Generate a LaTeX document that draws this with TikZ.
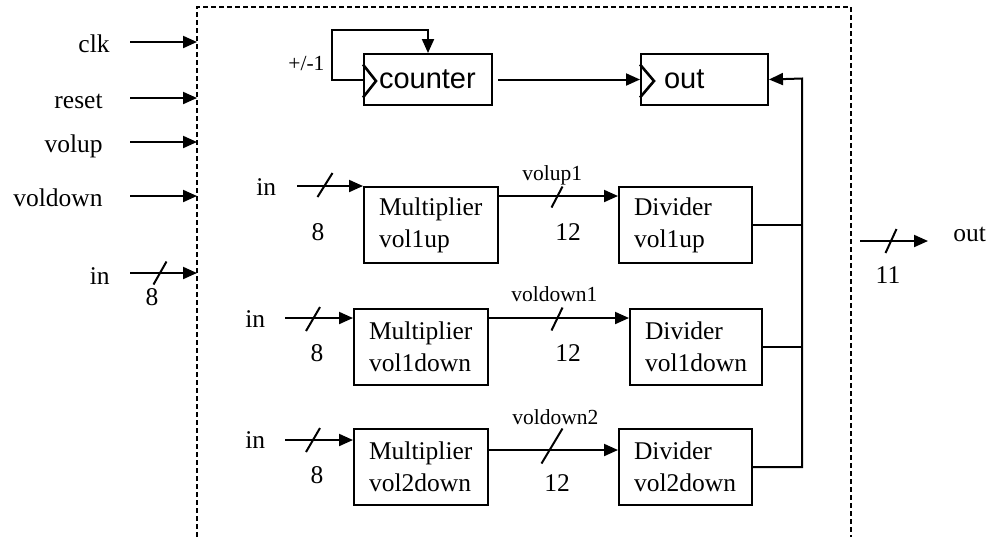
\documentclass[tikz,border=0pt]{standalone}
\usepackage{fontspec}
\setmainfont{Liberation Serif}
\newfontfamily\sansf{Liberation Sans}
\usetikzlibrary{arrows.meta,calc}
\tikzset{
 wire/.style={line width=1pt},
 arr/.style={wire,-{Triangle[length=7pt,width=6pt]}},
 blk/.style={draw,line width=1pt,anchor=north west,minimum height=38pt,inner xsep=7.5pt,inner ysep=0pt,align=left,font=\fontsize{12.75}{16}\selectfont},
 reg/.style={draw,line width=1pt,anchor=north west,minimum height=25.5pt,inner ysep=0pt,align=left,font=\sansf\fontsize{14.5}{16}\selectfont},
 lbl/.style={inner sep=0pt,font=\fontsize{12.75}{15}\selectfont},
 sml/.style={inner sep=0pt,font=\fontsize{10.75}{13}\selectfont},
 frame/.style={line width=0.8pt,dash pattern=on 2.5pt off 1.5pt},
}
\begin{document}
\begin{tikzpicture}[x=0.5pt,y=-0.5pt]
\useasboundingbox (0,0) rectangle (988,537);
% dashed frame
\coordinate (fbl) at (197,537);
\coordinate (ftl) at (197,7);
\coordinate (ftr) at (851,7);
\coordinate (fbr) at (851,537);
\draw[frame] (fbl) -- (ftl) -- (ftr) -- (fbr);

% registers
\node[reg,text width=49pt,inner xsep=7.5pt] (counter) at (363,53) {counter};
\node[reg,text width=40.5pt,inner xsep=11.5pt] (outreg) at (640,53) {out};
\draw[line width=1.3pt] ($(counter.west)+(0,-15)$) -- ($(counter.west)+(13,1.5)$) -- ($(counter.west)+(0,18)$);
\draw[line width=1.3pt] ($(outreg.west)+(0,-15)$) -- ($(outreg.west)+(14,1.5)$) -- ($(outreg.west)+(0,18)$);

% blocks
\node[blk,text width=52pt] (mult1) at (363,186) {Multiplier\\vol1up};
\node[blk,text width=52pt] (mult2) at (353,308) {Multiplier\\vol1down};
\node[blk,text width=52pt] (mult3) at (353,428) {Multiplier\\vol2down};
\node[blk,text width=51.5pt] (div1) at (618,186) {Divider\\vol1up};
\node[blk,text width=51pt] (div2) at (629,308) {Divider\\vol1down};
\node[blk,text width=51.5pt] (div3) at (618,428) {Divider\\vol2down};

% left inputs
\node[lbl,anchor=base east] (lclk) at (110,52) {clk};
\node[lbl,anchor=base east] (lrst) at (103,108) {reset};
\node[lbl,anchor=base east] (lvu) at (103,152) {volup};
\node[lbl,anchor=base east] (lvd) at (103,206) {voldown};
\node[lbl,anchor=base east] (lin) at (110,284) {in};
\coordinate (sclk) at (130,42);  \coordinate (eclk) at (197,42);
\coordinate (srst) at (130,98);  \coordinate (erst) at (197,98);
\coordinate (svu) at (130,142);  \coordinate (evu) at (197,142);
\coordinate (svd) at (130,196);  \coordinate (evd) at (197,196);
\coordinate (sin) at (130,273);  \coordinate (ein) at (197,273);
\draw[arr] (sclk) -- (eclk);
\draw[arr] (srst) -- (erst);
\draw[arr] (svu) -- (evu);
\draw[arr] (svd) -- (evd);
\draw[arr] (sin) -- (ein);
\draw[wire] (160,273) ++(-6.5,11.5) -- ++(13,-23);
\node[lbl] (n8l) at (152,297) {8};

% counter loop
\node[sml,anchor=base west] (pm) at (288,70) {+/-1};
\coordinate (fbk) at (428,30);
\draw[arr] (counter.west) -- ++(-31,0) |- (fbk) -- (fbk |- counter.north);
\draw[arr,shorten <=2.5pt] (counter.east) -- (outreg.west);

% row inputs
\node[lbl,anchor=base west] (in1) at (256,195) {in};
\node[lbl,anchor=base west] (in2) at (245,327) {in};
\node[lbl,anchor=base west] (in3) at (245,448) {in};
\coordinate (s1) at (297,186);
\coordinate (s2) at (285,318);
\coordinate (s3) at (285,440);
\draw[arr] (s1) -- (mult1.north west);
\draw[arr] (s2) -- (s2 -| mult2.west);
\draw[arr] (s3) -- (s3 -| mult3.west);
\draw[wire] (325,185) ++(-7.5,12) -- ++(15,-24);
\draw[wire] (313,319) ++(-7,12) -- ++(14,-24);
\draw[wire] (313,440) ++(-7,12) -- ++(14,-24);
\node[lbl] (n81) at (318,232) {8};
\node[lbl] (n82) at (317,353) {8};
\node[lbl] (n83) at (317,475) {8};

% multiplier -> divider
\coordinate (m1) at ($(mult1.north east)+(0,10)$);
\coordinate (m2) at ($(mult2.north east)+(0,10)$);
\coordinate (m3) at ($(mult3.north east)+(0,22)$);
\draw[arr] (m1) -- (m1 -| div1.west);
\draw[arr] (m2) -- (m2 -| div2.west);
\draw[arr] (m3) -- (m3 -| div3.west);
\draw[wire] (557,197) ++(-5.5,10.5) -- ++(11,-21);
\draw[wire] (557,319) ++(-5.5,11.5) -- ++(11,-23);
\draw[wire] (552,446) ++(-10.5,17.5) -- ++(21,-35);
\node[sml,anchor=base west] (lvu1) at (522,180) {volup1};
\node[sml,anchor=base west] (lvd1) at (511,301) {voldown1};
\node[sml,anchor=base west] (lvd2) at (512,424) {voldown2};
\node[lbl] (n121) at (568,232) {12};
\node[lbl] (n122) at (568,353) {12};
\node[lbl] (n123) at (557,483) {12};

% bus to out register
\coordinate (bus) at (802,78.5);
\draw[arr] (div3.east) -| (bus) -- (outreg.east);
\draw[wire] (div1.east) -- (div1.east -| bus);
\draw[wire] (div2.east) -- (div2.east -| bus);

% output
\coordinate (so) at (860,241);
\coordinate (eo) at (928,241);
\draw[arr] (so) -- (eo);
\draw[wire] (891,241) ++(-5.5,12) -- ++(11,-24);
\node[lbl] (n11) at (888,275) {11};
\node[lbl,anchor=base west] (lout) at (953,241) {out};
\end{tikzpicture}
\end{document}
